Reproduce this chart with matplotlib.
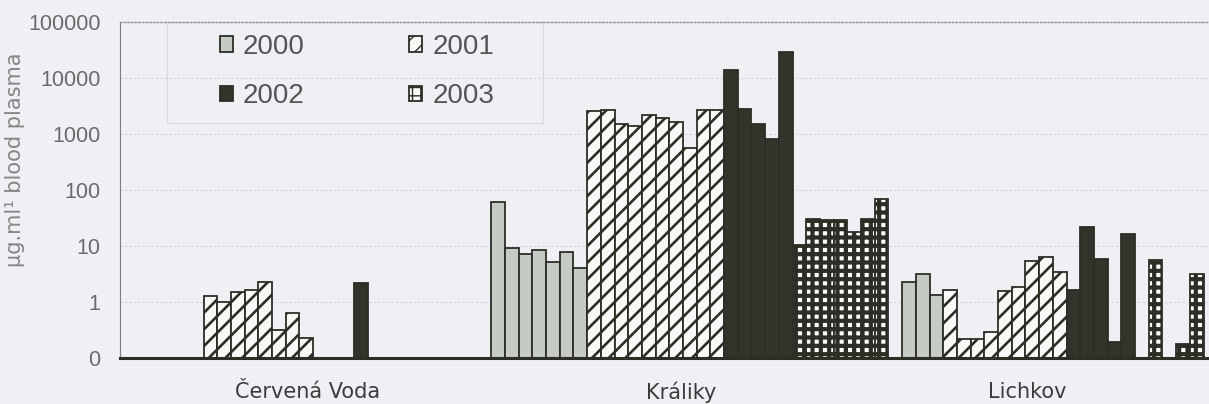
"""
Antibody concentration in blood plasma at three localities, 2000-2003.
Log-scale bar chart, one bar per sampled animal, grouped by site and year.
"""

import matplotlib
matplotlib.use("Agg")
import matplotlib.pyplot as plt
import matplotlib.ticker as ticker
from matplotlib.patches import Rectangle
import numpy as np

# --- data (µg/ml, 0 = below detection) ---------------------------------
sites = ["Červená Voda", "Králiky", "Lichkov"]
years = ["2000", "2001", "2002", "2003"]

cv_2000 = [0, 0, 0, 0, 0, 0]
cv_2001 = [1.26, 0.98, 1.5, 1.66, 2.3, 0.31, 0.64, 0.23]
cv_2002 = [0, 0, 0, 2.14, 0, 0]
cv_2003 = [0, 0, 0, 0, 0, 0]

kr_2000 = [60, 9.3, 7.1, 8.4, 5.1, 7.9, 4.0]
kr_2001 = [2540, 2720, 1500, 1370, 2150, 1950, 1630, 565, 2720, 2720]
kr_2002 = [13800, 2820, 1520, 820, 29500]
kr_2003 = [10.3, 30, 29, 29, 17.8, 30, 69]

li_2000 = [2.29, 3.22, 1.31]
li_2001 = [1.61, 0.22, 0.22, 0.29, 1.55, 1.86, 5.36, 6.3, 3.4]
li_2002 = [1.61, 21.8, 5.75, 0.19, 16.6]
li_2003 = [0, 5.6, 0, 0.18, 3.22]

site_label_pos = [13.6, 40.9, 66.1]
y_ticks = [0.1, 1, 10, 100, 1000, 10000, 100000]
y_tick_labels = ["0", "1", "10", "100", "1000", "10000", "100000"]

data = {
    "Červená Voda": [cv_2000, cv_2001, cv_2002, cv_2003],
    "Králiky": [kr_2000, kr_2001, kr_2002, kr_2003],
    "Lichkov": [li_2000, li_2001, li_2002, li_2003],
}

BG = "#eef0f3"
INK = "#2c2e26"

styles = {
    "2000": dict(facecolor="#c6cac4", hatch=None, hlw=1.0),
    "2001": dict(facecolor="#f8f9f7", hatch="//", hlw=1.9),
    "2002": dict(facecolor="#32342b", hatch=None, hlw=1.0),
    "2003": dict(facecolor="#fbfbfa", hatch="++", hlw=3.0),
}


def draw_bars(ax):
    handles = {}
    pos = 0
    for site in sites:
        for year, vals in zip(years, data[site]):
            st = styles[year]
            x = pos + np.arange(len(vals)) + 0.5
            with plt.rc_context({"hatch.linewidth": st["hlw"]}):
                bars = ax.bar(x, vals, width=1.0, facecolor=st["facecolor"],
                              edgecolor=INK, linewidth=1.3, hatch=st["hatch"],
                              label=year, zorder=3)
            for b in bars:
                if hasattr(b, "set_hatch_linewidth"):
                    b.set_hatch_linewidth(st["hlw"])
            handles.setdefault(year, bars)
            pos += len(vals)
        pos += 1  # empty slot between sites
    return handles


def main():
    fig = plt.figure(figsize=(12.09, 4.04), dpi=100, facecolor=BG)
    ax = fig.add_axes([120 / 1209, 46 / 404, 1089 / 1209, 336 / 404], facecolor=BG)

    handles = draw_bars(ax)

    ax.set_yscale("log")
    ax.set_ylim(0.1, 100000)
    ax.set_xlim(-0.1, 79.4)

    ax.yaxis.set_major_locator(ticker.FixedLocator(y_ticks))
    ax.yaxis.set_minor_locator(ticker.NullLocator())
    ax.set_yticklabels(y_tick_labels, fontfamily="Liberation Sans",
                       fontsize=15.5, color="#6b6b6b")
    ax.tick_params(axis="y", length=0, pad=14)

    ax.set_xticks(site_label_pos)
    ax.set_xticklabels(sites, fontfamily="DejaVu Sans", fontsize=15, color="#3c3c3c")
    ax.tick_params(axis="x", length=0, pad=17)

    ax.grid(True, axis="y", color="#cfd3d8", linestyle=(0, (2, 2)), linewidth=0.8, zorder=0)

    ax.spines["right"].set_visible(False)
    ax.spines["top"].set_color("#8e9094")
    ax.spines["top"].set_linestyle(":")
    ax.spines["top"].set_linewidth(1.0)
    ax.spines["left"].set_color("#7d7f82")
    ax.spines["left"].set_linewidth(0.8)
    ax.spines["bottom"].set_color(INK)
    ax.spines["bottom"].set_linewidth(2.2)
    ax.spines["bottom"].set_zorder(4)

    fig.text(15 / 1209, 1 - 160 / 404, "µg.ml¹ blood plasma", rotation=90,
             ha="center", va="center", fontfamily="DejaVu Sans",
             fontsize=15, color="#858585")

    # legend box, faint frame like the plot area
    ax.add_patch(Rectangle((0.043, 0.699), 0.345, 0.301, transform=ax.transAxes,
                           fill=False, edgecolor="#d6d9dd", linewidth=0.8, zorder=2))
    # two columns filled row-wise: 2000 2001 / 2002 2003
    order = ["2000", "2002", "2001", "2003"]
    ax.legend([handles[y] for y in order], order, ncol=2, frameon=False,
              loc="upper left", bbox_to_anchor=(0.0915, 0.965),
              prop={"family": "Liberation Sans", "size": 20},
              labelcolor="#555555", handlelength=0.48, handleheight=0.48,
              handletextpad=0.36, columnspacing=3.75, labelspacing=0.85,
              borderaxespad=0, borderpad=0)

    fig.savefig("out.png", dpi=100, facecolor=BG)


if __name__ == "__main__":
    main()
